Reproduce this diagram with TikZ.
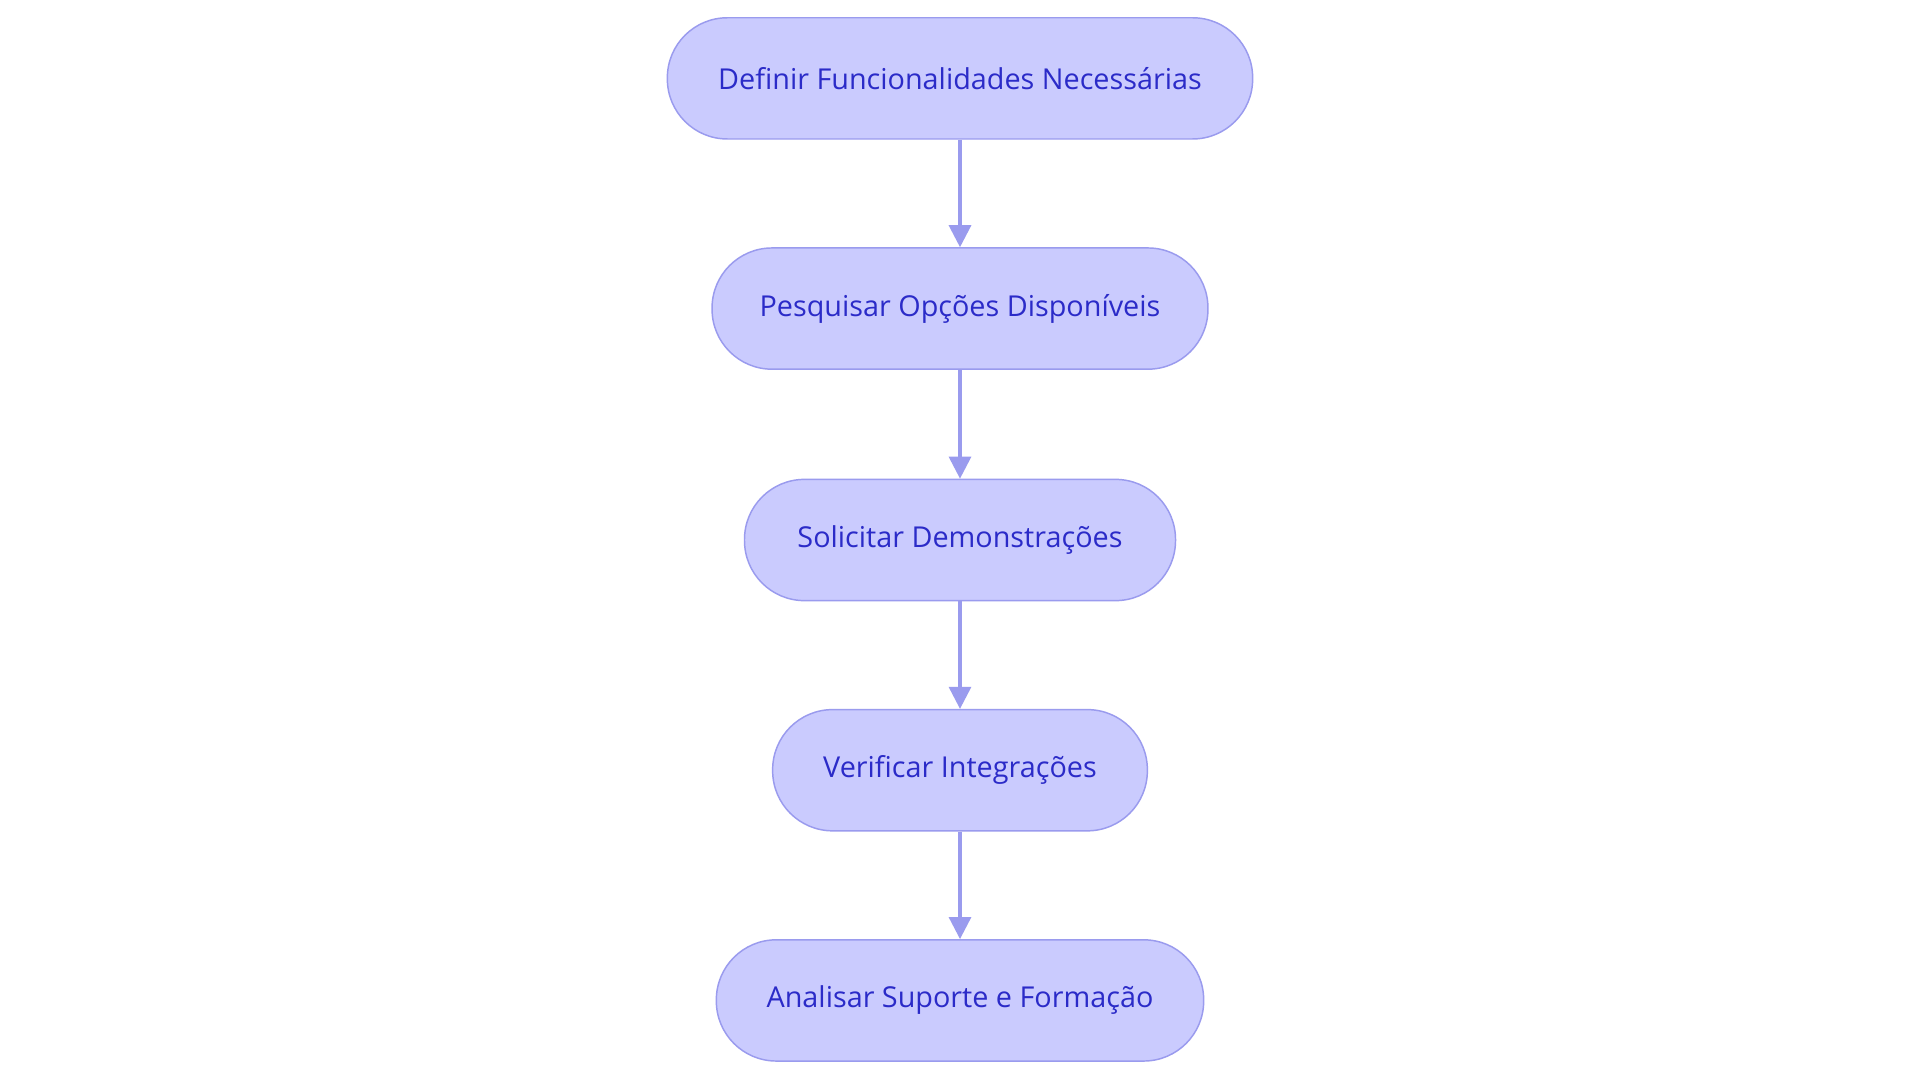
\documentclass[tikz,border=0pt]{standalone}
\usepackage{fontspec}
\setmainfont{Open Sans}
\usetikzlibrary{arrows.meta}
\definecolor{fillc}{HTML}{CACBFE}
\definecolor{bord}{HTML}{9A9BEE}
\definecolor{txt}{HTML}{2B2BC8}
\begin{document}
\begin{tikzpicture}[x=1pt,y=-1pt,
 box/.style={draw=bord,fill=fillc,line width=1.2pt,rounded corners=49pt,minimum height=99pt,text=txt,font=\fontsize{23.5}{27}\selectfont,inner sep=0pt},
 arr/.style={draw=bord,line width=2.5pt,-{Triangle[length=18pt,width=18pt]}}]
\useasboundingbox (0,0) rectangle (1568,884);
\fill[white] (0,0) rectangle (1568,884);
\node[box,minimum width=478pt] (a) at (784,64) {Definir Funcionalidades Necessárias};
\node[box,minimum width=405pt] (b) at (784,252) {Pesquisar Opções Disponíveis};
\node[box,minimum width=352pt] (c) at (784,441) {Solicitar Demonstrações};
\node[box,minimum width=306pt] (d) at (784,629) {Verificar Integrações};
\node[box,minimum width=398pt] (e) at (784,817) {Analisar Suporte e Formação};
\draw[arr] (a) -- (b);
\draw[arr] (b) -- (c);
\draw[arr] (c) -- (d);
\draw[arr] (d) -- (e);
\end{tikzpicture}
\end{document}
